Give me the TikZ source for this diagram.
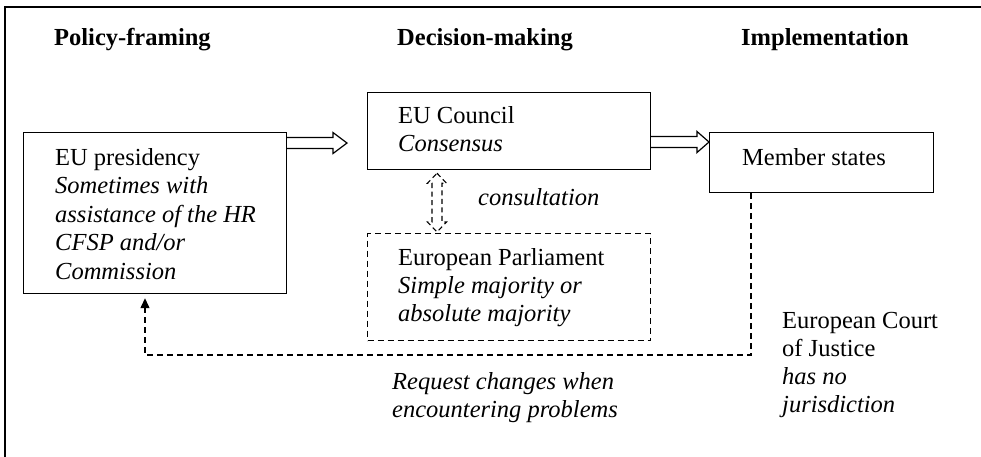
\documentclass[tikz,border=0pt]{standalone}
\usepackage{fontspec}
\setmainfont{Liberation Serif}
\usetikzlibrary{arrows.meta,calc}
\begin{document}
\begin{tikzpicture}[x=1pt,y=-1pt,
  box/.style={draw,line width=1.2pt,inner sep=0pt},
  dbox/.style={box,dash pattern=on 6pt off 4pt},
  txt/.style={inner sep=0pt,align=left,font=\fontsize{24.5}{28}\selectfont},
  head/.style={inner sep=0pt,font=\fontsize{24.5}{28}\selectfont\bfseries},
  barrow/.style={draw,line width=1.2pt,line join=miter},
  darrow/.style={draw,line width=1.1pt,line join=miter,dash pattern=on 5pt off 3.5pt},
  fbline/.style={draw,line width=1.3pt,dash pattern=on 6pt off 4pt,-{Triangle[length=10pt,width=9pt]}}]
\useasboundingbox (0,0) rectangle (981,456);
\draw[line width=2.5pt] (5,458) -- (5,7) -- (983,7);
% headers
\node[head,anchor=base west] (h1) at (54,45) {Policy-framing};
\node[head,anchor=base west] (h2) at (397,45) {Decision-making};
\node[head,anchor=base west] (h3) at (741,45) {Implementation};
% boxes
\node[box,anchor=north west,minimum width=263pt,minimum height=161pt] (pres) at (23,132) {};
\node[box,anchor=north west,minimum width=283pt,minimum height=77pt] (council) at (367,92) {};
\node[box,anchor=north west,minimum width=224pt,minimum height=60pt] (ms) at (709,132) {};
\node[dbox,anchor=north west,minimum width=283pt,minimum height=107pt] (ep) at (367,233) {};
% texts
\node[txt,anchor=north west,font=\fontsize{24.5}{28.5}\selectfont] (prestxt) at (55,148)
  {EU presidency\\ \textit{Sometimes with}\\ \textit{assistance of the HR}\\ \textit{CFSP and/or}\\ \textit{Commission}};
\node[txt,anchor=north west] (counciltxt) at (398,106) {EU Council\\ \textit{Consensus}};
\node[txt,anchor=north west] (eptxt) at (398,248) {European Parliament\\ \textit{Simple majority or}\\ \textit{absolute majority}};
\node[txt,anchor=west] (mstxt) at (742,157) {Member states};
\node[txt,anchor=west] (cons) at (478,197) {\textit{consultation}};
\node[txt,anchor=north west] (req) at (392,372) {\textit{Request changes when}\\ \textit{encountering problems}};
\node[txt,anchor=north west] (ecj) at (782,312) {European Court\\ of Justice\\ \textit{has no}\\ \textit{jurisdiction}};
% block arrow presidency -> council
\coordinate (a1s) at ($(pres.north east)+(0,11)$);
\coordinate (a1t) at ($(council.north west)+(-20,51)$);
\draw[barrow] ($(a1s)+(0,-5.5)$) -- ($(a1t)+(-14,-5.5)$) -- ($(a1t)+(-14,-10.5)$) -- (a1t)
  -- ($(a1t)+(-14,10.5)$) -- ($(a1t)+(-14,5.5)$) -- ($(a1s)+(0,5.5)$);
% block arrow council -> member states
\coordinate (a2s) at ($(council.north east)+(0,50)$);
\coordinate (a2t) at ($(ms.north west)+(0,10)$);
\draw[barrow] ($(a2s)+(0,-5.5)$) -- ($(a2t)+(-12,-5.5)$) -- ($(a2t)+(-12,-10.5)$) -- (a2t)
  -- ($(a2t)+(-12,10.5)$) -- ($(a2t)+(-12,5.5)$) -- ($(a2s)+(0,5.5)$);
% dashed double arrow council <-> EP
\coordinate (vt) at ($(council.south west)+(70,3)$);
\coordinate (vb) at ($(ep.north west)+(70,-1)$);
\draw[darrow] (vt) -- ($(vt)+(9.5,10)$) -- ($(vt)+(5,10)$) -- ($(vb)+(5,-10)$) -- ($(vb)+(9.5,-10)$)
  -- (vb) -- ($(vb)+(-9.5,-10)$) -- ($(vb)+(-5,-10)$) -- ($(vt)+(-5,10)$) -- ($(vt)+(-9.5,10)$) -- cycle;
% feedback dashed line
\coordinate (f0) at ($(ms.south west)+(42,0)$);
\coordinate (f3) at ($(pres.south west)+(122,4)$);
\coordinate (fbl) at ($(f3 |- 0,355)$);
\draw[fbline] (f0) -- (f0 |- fbl) -- (fbl) -- (f3);
\end{tikzpicture}
\end{document}
